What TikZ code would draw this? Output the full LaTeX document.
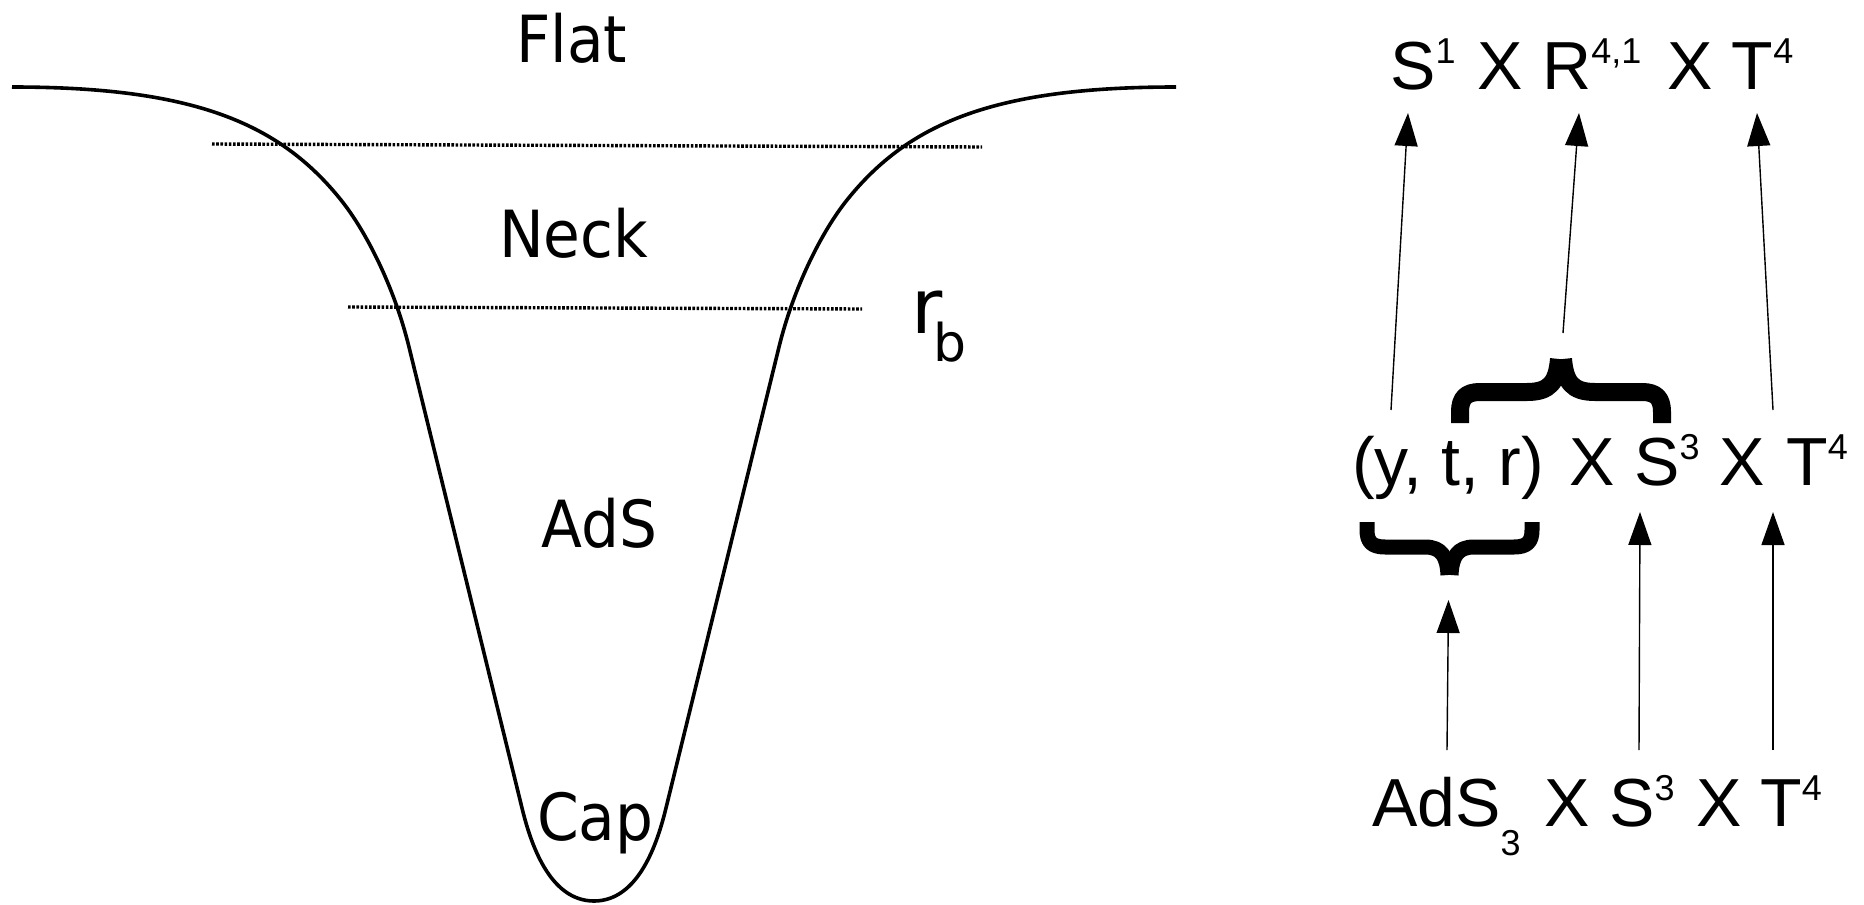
\documentclass[tikz,border=0pt]{standalone}
\usepackage{fontspec}
\setmainfont{Liberation Sans}
\newfontfamily\lfont[FakeStretch=0.92]{DejaVu Sans}
\newfontfamily\rfont{DejaVu Sans}
\usetikzlibrary{arrows.meta}
\newcommand{\hsup}[1]{\raisebox{26pt}{\fontsize{36}{36}\selectfont #1}}
\newcommand{\lsub}[1]{\raisebox{-29pt}{\fontsize{36}{36}\selectfont #1}}
\tikzset{
  rt/.style={inner sep=0pt, anchor=base west, font=\fontsize{68}{68}\selectfont},
  lt/.style={inner sep=0pt, anchor=base west, font=\lfont\fontsize{65}{65}\selectfont},
  well/.style={line width=3.6pt, line join=round, line cap=butt},
  level/.style={line width=3.4pt, dash pattern=on 2.6pt off 1.6pt},
  arr/.style={line width=1.4pt, -{Triangle[length=33pt,width=23pt]}},
  bigbrace/.style={line width=18pt, line cap=butt, line join=round},
  smallbrace/.style={line width=15pt, line cap=butt, line join=round}
}
\begin{document}
\begin{tikzpicture}[x=1pt,y=-1pt]
\useasboundingbox (0,0) rectangle (1864,905);
% ---------- left: the well ----------
\draw[well] (12,87) .. controls (192,87) and (278.5,122) .. (341,200)
  .. controls (366,231.2) and (394.3,287) .. (409,347)
  -- (522,808)
  .. controls (530.3,842) and (549,901) .. (594,901)
  .. controls (639,901) and (657.7,842) .. (666,808)
  -- (779,347)
  .. controls (793.7,287) and (822,231.2) .. (847,200)
  .. controls (909.5,122) and (996,87) .. (1176,87);
\draw[level] (212,144) -- (982,147);
\draw[level] (348,307) -- (862,309);
\node[lt] (flat) at (516,62) {Flat};
\node[lt] (neck) at (499,257) {Neck};
\node[lt] (ads) at (541,547) {AdS};
\node[lt] (cap) at (537,840) {Cap};
\node[inner sep=0pt, anchor=base west, font=\rfont\fontsize{76}{76}\selectfont] (rb) at (911,333)
  {r\kern-9pt\raisebox{-28pt}{\fontsize{52}{52}\selectfont b}};
% ---------- right: top row ----------
\node[rt] (topS) at (1390,89) {S\hsup{1}};
\node[rt] (topX1) at (1477,89) {X};
\node[rt] (topR) at (1542,89) {R\hsup{4,1}};
\node[rt] (topX2) at (1667,89) {X};
\node[rt] (topT) at (1731.5,89) {T\hsup{4}};
% ---------- middle row ----------
\node[rt, anchor=base] (midP) at (1448,485) {(y, t, r)};
\node[rt] (midX1) at (1569,485) {X};
\node[rt] (midS) at (1634,485) {S\hsup{3}};
\node[rt] (midX2) at (1719,485) {X};
\node[rt] (midT) at (1786,485) {T\hsup{4}};
% ---------- bottom row ----------
\node[rt] (botA) at (1372,826) {AdS\lsub{3}};
\node[rt] (botX1) at (1544,826) {X};
\node[rt] (botS) at (1609,826) {S\hsup{3}};
\node[rt] (botX2) at (1696,826) {X};
\node[rt] (botT) at (1760,826) {T\hsup{4}};
% ---------- braces ----------
\coordinate (tbt) at (1561,359);
\draw[bigbrace] (1460,423) -- (1460,412) .. controls (1460,398) and (1466,392) .. (1480,392)
  -- (1527,392) .. controls (1550,392) and (1557,382) .. (1559,359);
\draw[bigbrace] (1662,423) -- (1662,412) .. controls (1662,398) and (1656,392) .. (1642,392)
  -- (1595,392) .. controls (1572,392) and (1565,382) .. (1563,359);
\coordinate (bbt) at (1449.5,575);
\draw[smallbrace] (1367,522) -- (1367,530) .. controls (1367,542) and (1372,547) .. (1385,547)
  -- (1425,547) .. controls (1442,547) and (1447,557) .. (1448,575);
\draw[smallbrace] (1532,522) -- (1532,530) .. controls (1532,542) and (1527,547) .. (1514,547)
  -- (1474,547) .. controls (1457,547) and (1452,557) .. (1451,575);
% ---------- arrows ----------
\draw[arr] ([xshift=-57pt,yshift=75pt]midP.base) -- ([xshift=18pt,yshift=-24pt]topS.base west);
\draw[arr] ([xshift=2pt,yshift=26pt]tbt) -- ([xshift=37pt,yshift=-24pt]topR.base west);
\draw[arr] ([xshift=-13pt,yshift=75pt]midT.base west) -- ([xshift=25.5pt,yshift=-24pt]topT.base west);
\draw[arr] ([xshift=75pt,yshift=76pt]botA.base west) -- ([xshift=-1pt,yshift=-25pt]bbt);
\draw[arr] ([xshift=30pt,yshift=76pt]botS.base west) -- ([xshift=6pt,yshift=-27pt]midS.base west);
\draw[arr] ([xshift=13pt,yshift=76pt]botT.base west) -- ([xshift=-13pt,yshift=-27pt]midT.base west);
\end{tikzpicture}
\end{document}
